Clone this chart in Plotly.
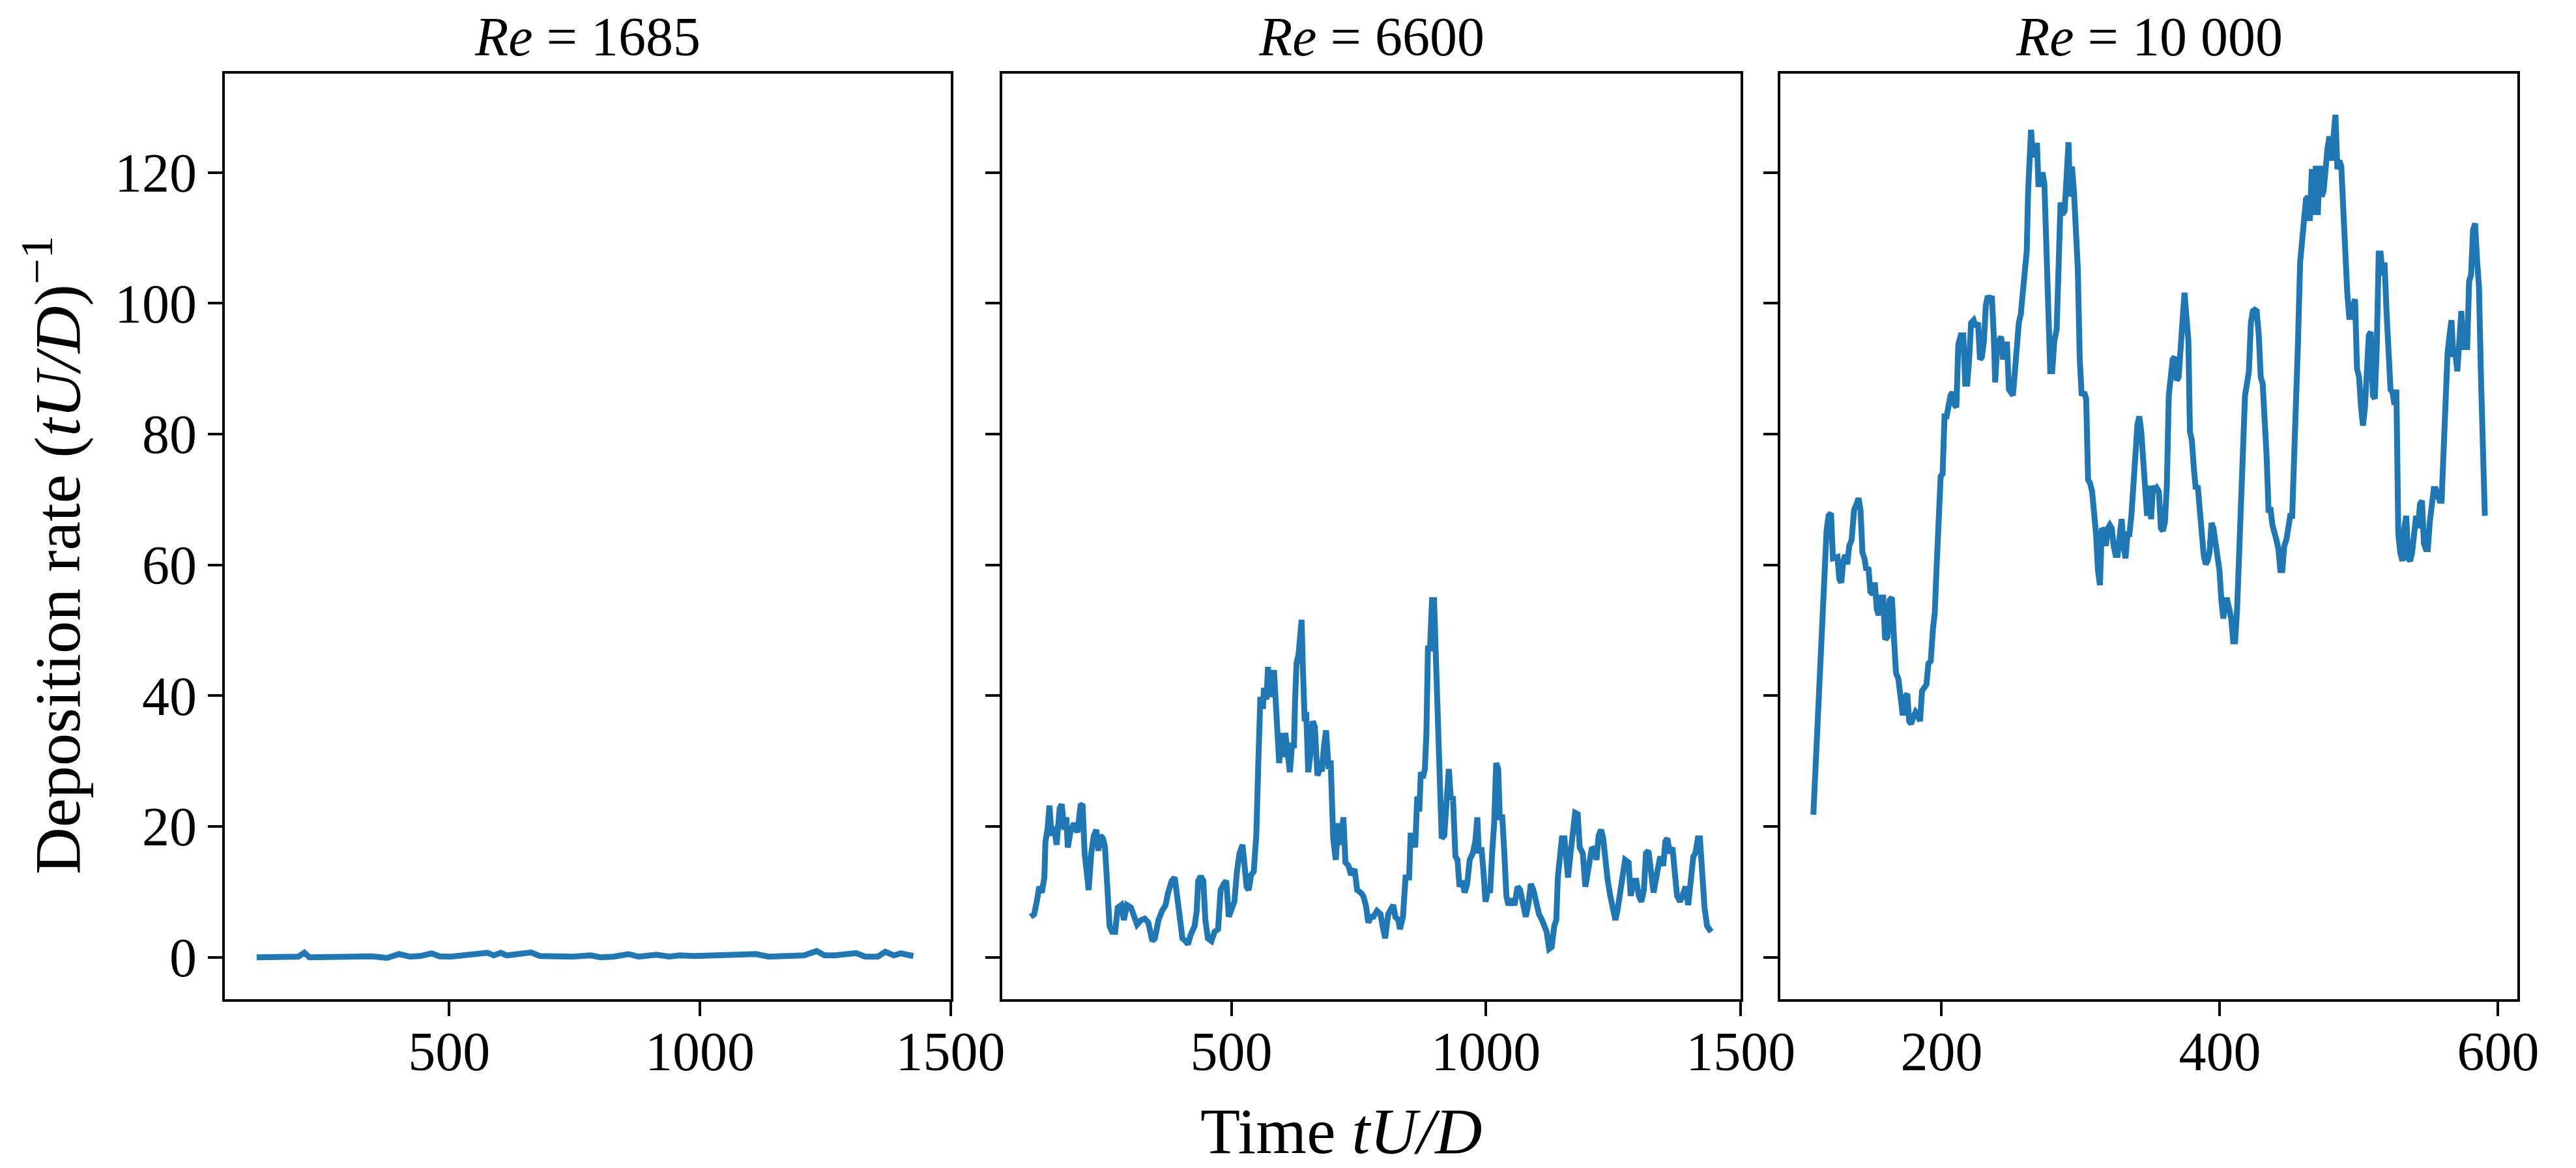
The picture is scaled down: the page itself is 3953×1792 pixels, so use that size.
import plotly.graph_objects as go

# Re = 1685
time_1685 = [116, 148, 173, 199, 211, 221, 260, 300, 346, 376,
             400, 422, 442, 465, 481, 503, 523, 552, 576, 589,
             603, 615, 630, 645, 663, 681, 706, 746, 782, 802,
             828, 858, 878, 914, 939, 959, 990, 1020, 1061, 1096,
             1112, 1137, 1162, 1183, 1208, 1233, 1249, 1269, 1289, 1312,
             1330, 1355, 1370, 1387, 1401, 1414, 1426]
rate_1685 = [0.0, 0.05, -0.1, 0.1, 0.7, 0.0, 0.05, 0.1, 0.15, -0.1,
             0.5, 0.1, 0.2, 0.6, 0.15, 0.1, 0.3, 0.4, 0.7, 0.3,
             0.7, 0.3, 0.5, 0.6, 0.75, 0.2, 0.1, 0.1, 0.3, 0.0,
             0.1, 0.5, 0.1, 0.4, 0.1, 0.3, 0.2, 0.3, 0.4, 0.6,
             0.5, 0.1, 0.2, 0.3, 0.3, 0.95, 0.3, 0.3, 0.4, 0.65,
             0.1, 0.1, 0.85, 0.3, 0.6, 0.5, 0.2]

# Re = 6600
time_6600 = [106, 113, 118, 123, 128, 133, 135, 139, 143, 147,
             152, 157, 163, 167, 172, 176, 179, 184, 191, 198,
             204, 208, 212, 215, 220, 225, 230, 235, 239, 243,
             248, 252, 256, 261, 266, 272, 277, 284, 289, 295,
             303, 308, 315, 323, 330, 337, 345, 350, 357, 364,
             371, 376, 383, 389, 393, 399, 404, 410, 415, 420,
             428, 432, 435, 440, 445, 449, 454, 461, 467, 474,
             479, 485, 490, 495, 501, 506, 511, 516, 522, 525,
             530, 534, 539, 544, 549, 553, 557, 562, 564, 569,
             572, 576, 580, 584, 588, 591, 594, 598, 602, 606,
             611, 615, 619, 623, 625, 628, 632, 635, 638, 640,
             644, 647, 651, 656, 660, 664, 669, 674, 678, 682,
             686, 691, 695, 700, 705, 710, 715, 720, 724, 730,
             735, 742, 747, 754, 759, 764, 769, 774, 779, 786,
             793, 797, 802, 808, 814, 818, 822, 828, 831, 837,
             842, 849, 852, 857, 861, 865, 869, 872, 876, 880,
             883, 886, 890, 894, 898, 901, 904, 908, 910, 913,
             918, 923, 927, 931, 935, 940, 944, 948, 953, 958,
             963, 968, 974, 979, 983, 986, 991, 995, 999, 1004,
             1008, 1012, 1016, 1020, 1024, 1027, 1032, 1036, 1040, 1044,
             1050, 1056, 1062, 1067, 1073, 1078, 1083, 1088, 1093, 1098,
             1104, 1110, 1114, 1119, 1124, 1129, 1134, 1138, 1141, 1145,
             1149, 1154, 1157, 1161, 1166, 1171, 1175, 1180, 1184, 1190,
             1195, 1200, 1204, 1208, 1214, 1217, 1221, 1226, 1230, 1234,
             1239, 1244, 1249, 1254, 1258, 1263, 1268, 1273, 1280, 1284,
             1290, 1295, 1300, 1305, 1310, 1314, 1319, 1324, 1329, 1333,
             1338, 1342, 1348, 1352, 1356, 1361, 1366, 1370, 1375, 1381,
             1387, 1392, 1397, 1402, 1407, 1411, 1416, 1420, 1424, 1429,
             1434, 1442]
rate_6600 = [6.2, 6.6, 8.5, 10.8, 9.9, 12.2, 17.7, 19.5, 23.2, 18.6,
             20.0, 17.2, 22.8, 23.4, 19.5, 21.4, 16.8, 19.1, 20.5, 19.1,
             23.2, 23.4, 15.9, 13.1, 10.3, 15.9, 18.6, 19.5, 16.3, 18.6,
             18.2, 16.8, 10.3, 4.8, 3.9, 3.9, 7.6, 8.0, 5.7, 8.0,
             7.6, 6.6, 5.0, 5.7, 5.9, 5.3, 2.5, 2.9, 5.7, 7.1,
             8.0, 9.9, 11.7, 12.2, 9.9, 6.6, 2.9, 2.5, 2.0, 3.4,
             4.8, 7.1, 11.7, 12.4, 11.7, 5.7, 2.9, 2.5, 3.9, 4.3,
             10.3, 11.2, 11.7, 6.2, 7.6, 8.5, 13.1, 15.9, 17.2, 14.9,
             10.8, 10.3, 12.6, 13.1, 18.6, 29.7, 39.8, 38.0, 41.2, 39.4,
             44.4, 39.8, 43.5, 43.5, 36.1, 34.7, 29.7, 34.3, 30.6, 34.3,
             30.1, 28.3, 32.4, 32.4, 38.9, 44.9, 46.3, 49.0, 51.6, 45.4,
             36.1, 37.5, 28.3, 31.5, 36.1, 35.2, 27.8, 28.8, 28.8, 32.4,
             34.7, 28.8, 30.1, 18.2, 14.9, 20.5, 17.2, 21.4, 14.5, 14.0,
             12.6, 13.5, 10.3, 9.9, 9.4, 8.0, 5.3, 6.2, 6.2, 7.1,
             6.6, 4.8, 2.9, 6.6, 7.6, 8.0, 6.2, 5.7, 4.3, 6.2,
             12.2, 12.2, 18.6, 18.6, 16.8, 24.6, 22.3, 28.3, 27.4, 28.8,
             34.3, 47.2, 47.2, 54.6, 54.6, 47.2, 38.0, 24.1, 23.7, 18.2,
             18.6, 25.1, 28.8, 24.1, 24.6, 15.4, 14.9, 10.8, 11.7, 9.9,
             11.2, 14.9, 15.9, 17.7, 21.4, 15.9, 16.8, 13.1, 8.5, 10.3,
             9.9, 15.9, 20.5, 29.7, 28.8, 21.4, 21.4, 15.9, 9.4, 8.0,
             8.9, 8.0, 10.8, 10.3, 8.5, 6.2, 8.0, 11.2, 10.3, 8.5,
             6.6, 5.7, 4.8, 3.9, 1.3, 1.6, 4.8, 5.7, 12.2, 15.9,
             18.2, 18.2, 15.4, 12.2, 15.9, 19.5, 22.1, 21.9, 16.8, 15.9,
             10.8, 13.1, 14.9, 16.8, 16.3, 14.9, 18.6, 19.5, 18.2, 14.9,
             11.7, 9.4, 7.1, 5.7, 7.1, 10.3, 13.1, 14.9, 14.5, 9.4,
             11.7, 11.7, 9.4, 8.5, 10.3, 15.9, 16.3, 12.2, 9.9, 11.7,
             14.0, 15.4, 14.0, 17.7, 18.2, 15.9, 16.8, 13.1, 9.4, 8.5,
             9.9, 10.8, 8.0, 11.7, 15.4, 15.9, 18.2, 18.2, 13.1, 7.6,
             4.8, 3.9]

# Re = 10 000
time_10000 = [107.8, 108.8, 110.3, 111.7, 113.1, 114.5, 115.9, 117.3, 118.7, 120.5,
              121.9, 123.3, 125.1, 126.5, 127.9, 129.3, 130.7, 132.2, 133.6, 135.3,
              137.1, 138.9, 140.3, 141.7, 143.1, 144.5, 145.9, 147.4, 148.8, 150.5,
              152.0, 153.4, 154.8, 156.5, 158.0, 159.4, 161.1, 162.6, 164.3, 165.7,
              167.2, 168.9, 170.7, 172.1, 173.9, 175.3, 176.7, 178.1, 179.5, 181.3,
              183.1, 184.5, 185.9, 187.3, 189.1, 190.5, 192.2, 193.7, 195.1, 196.5,
              197.9, 199.3, 200.7, 202.1, 203.6, 205.0, 206.4, 207.8, 209.2, 210.6,
              212.0, 213.8, 215.6, 217.0, 218.4, 219.8, 221.2, 223.0, 224.4, 226.2,
              227.6, 229.0, 230.4, 231.8, 233.2, 234.7, 236.1, 237.5, 238.5, 240.0,
              241.4, 242.8, 244.2, 245.6, 247.0, 248.4, 249.8, 251.3, 252.7, 254.1,
              255.5, 256.9, 258.3, 259.7, 261.2, 262.2, 263.3, 264.3, 265.7, 267.2,
              268.6, 269.6, 271.1, 272.5, 273.9, 275.3, 276.7, 278.1, 279.5, 281.0,
              282.7, 284.1, 285.5, 287.0, 288.4, 289.8, 291.2, 292.3, 293.7, 295.1,
              296.5, 297.9, 299.3, 300.7, 302.5, 303.9, 305.3, 306.7, 308.2, 309.6,
              311.0, 312.4, 313.8, 315.2, 316.6, 318.1, 319.5, 320.9, 322.3, 323.7,
              325.1, 326.5, 328.0, 329.4, 330.8, 332.2, 333.6, 335.0, 336.4, 337.9,
              339.3, 340.7, 342.1, 343.5, 344.9, 346.3, 347.7, 349.2, 350.6, 352.0,
              353.4, 354.8, 356.2, 357.6, 359.1, 360.5, 361.9, 363.3, 364.7, 366.1,
              367.5, 369.0, 370.4, 371.8, 373.2, 374.6, 376.0, 377.4, 378.5, 379.9,
              381.3, 382.7, 384.1, 385.5, 387.0, 388.4, 389.8, 391.2, 392.6, 394.0,
              395.4, 396.9, 398.3, 399.7, 401.1, 402.5, 403.9, 405.3, 406.8, 408.2,
              409.6, 411.0, 412.4, 413.8, 415.2, 416.6, 418.1, 419.5, 420.9, 422.3,
              423.7, 425.1, 426.5, 428.0, 429.4, 430.8, 432.2, 433.6, 435.0, 436.5,
              437.8, 439.3, 440.7, 442.1, 443.5, 444.9, 446.3, 447.8, 449.2, 450.6,
              452.0, 453.4, 454.8, 456.2, 457.7, 459.1, 460.5, 461.9, 463.3, 464.7,
              466.1, 467.5, 469.0, 470.4, 471.8, 473.2, 474.6, 476.0, 477.4, 478.8,
              480.3, 481.7, 483.1, 484.5, 485.9, 487.3, 488.7, 490.2, 491.6, 493.0,
              494.4, 495.8, 497.2, 498.6, 500.1, 501.5, 502.9, 504.3, 505.7, 507.1,
              508.5, 510.0, 511.4, 512.8, 514.2, 515.6, 517.0, 518.4, 519.8, 521.3,
              522.7, 524.1, 525.5, 526.9, 528.3, 529.7, 531.2, 532.6, 534.0, 535.4,
              536.8, 538.2, 539.6, 541.1, 542.4, 543.9, 545.3, 546.7, 548.1, 549.5,
              550.9, 552.3, 553.8, 555.2, 556.6, 558.0, 559.4, 560.8, 562.3, 563.7,
              565.1, 566.5, 567.9, 569.3, 570.7, 572.1, 573.6, 575.0, 576.4, 577.8,
              579.2, 580.6, 582.0, 583.5, 584.9, 586.3, 587.7, 589.1, 590.5]
rate_10000 = [21.8, 26.9, 31.5, 40.7, 48.1, 55.5, 61.9, 65.2, 67.5, 67.9,
              61.0, 61.0, 61.2, 57.8, 57.3, 60.6, 61.5, 60.1, 62.9, 63.8,
              68.4, 69.3, 70.2, 68.4, 61.9, 61.0, 59.2, 59.6, 55.9, 55.5,
              57.3, 53.2, 52.3, 55.0, 55.0, 48.6, 49.0, 54.6, 55.0, 49.0,
              43.5, 42.6, 38.9, 37.0, 39.8, 40.3, 36.1, 35.7, 36.6, 37.5,
              37.0, 36.1, 40.7, 41.2, 41.7, 44.9, 45.3, 50.0, 52.7, 60.1,
              66.5, 73.5, 73.9, 82.7, 82.7, 85.0, 85.9, 86.4, 84.5, 84.1,
              93.7, 95.1, 95.1, 87.7, 87.7, 91.4, 97.0, 97.4, 96.5, 97.0,
              91.4, 91.8, 94.2, 99.7, 101.1, 100.6, 101.1, 95.1, 87.9, 93.7,
              94.2, 94.9, 91.4, 93.7, 93.7, 86.8, 86.4, 85.9, 89.6, 95.1,
              97.0, 98.3, 101.6, 105.3, 108.0, 117.2, 126.5, 126.5, 122.3, 124.1,
              124.1, 118.2, 118.2, 120.0, 118.2, 108.9, 101.6, 89.6, 89.6, 94.2,
              96.0, 105.7, 115.4, 113.6, 114.1, 119.2, 124.6, 116.3, 120.9, 117.2,
              111.7, 105.3, 91.4, 85.9, 86.4, 85.4, 73.0, 72.5, 71.2, 68.4,
              64.7, 59.2, 56.9, 65.6, 65.2, 62.9, 65.6, 66.1, 65.6, 62.9,
              61.5, 61.5, 64.7, 67.0, 62.9, 61.0, 64.7, 64.7, 67.5, 71.2,
              76.7, 81.3, 82.7, 80.4, 75.8, 72.1, 67.5, 72.1, 67.0, 72.1,
              71.2, 71.7, 71.2, 65.6, 65.2, 66.5, 72.1, 85.9, 88.7, 91.4,
              91.8, 88.2, 88.7, 94.7, 97.4, 101.6, 97.8, 94.2, 80.4, 79.0,
              74.8, 71.6, 72.1, 68.4, 63.3, 61.5, 60.1, 60.6, 61.9, 66.4,
              65.6, 62.9, 61.0, 59.2, 54.6, 51.8, 54.6, 54.6, 53.2, 51.8,
              48.3, 48.3, 53.2, 61.9, 65.6, 73.0, 85.9, 87.7, 89.6, 97.0,
              98.8, 99.0, 98.8, 95.1, 88.7, 87.7, 83.1, 76.7, 68.4, 68.4,
              66.1, 65.2, 63.8, 62.4, 59.2, 59.2, 62.9, 63.8, 66.1, 67.5,
              67.5, 74.8, 86.8, 94.2, 106.2, 109.0, 112.2, 115.9, 116.3, 112.6,
              120.5, 113.5, 121.0, 113.5, 121.0, 116.3, 117.2, 121.8, 123.7, 125.5,
              121.8, 125.5, 128.8, 120.5, 121.8, 120.9, 113.5, 109.9, 101.6, 97.9,
              97.9, 99.7, 100.6, 90.0, 88.7, 84.1, 81.3, 84.1, 89.6, 95.1,
              95.6, 85.9, 85.4, 93.3, 107.6, 107.6, 104.3, 106.2, 98.8, 93.7,
              86.8, 86.4, 84.5, 86.8, 64.7, 61.9, 60.6, 65.6, 67.5, 61.0,
              60.6, 61.9, 65.6, 67.5, 65.6, 69.3, 69.8, 63.3, 62.4, 62.4,
              66.5, 69.3, 71.6, 71.6, 70.2, 69.8, 69.8, 77.6, 82.2, 92.4,
              95.1, 97.4, 91.8, 92.4, 89.6, 94.2, 98.8, 93.3, 93.3, 93.3,
              103.4, 104.3, 111.2, 112.2, 106.6, 102.5, 88.7, 78.5, 67.5]

titles = ["<i>Re</i> = 1685", "<i>Re</i> = 6600", "<i>Re</i> = 10 000"]
y_ticks = [0, 20, 40, 60, 80, 100, 120]
x_ticks = [[500, 1000, 1500], [500, 1000, 1500], [200, 400, 600]]

W, H = 3953, 1792
FONT = "Liberation Serif"
BLUE = "#1f77b4"

# panel frames in pixels (left, right), shared top/bottom
panels_px = [(344, 1482), (1563, 2721), (2783, 3939)]
top_px, bottom_px = 105, 1525
x_ranges = [[52, 1500], [50, 1500], [84, 614]]
y_range = [-6.4, 135.1]

series = [(time_1685, rate_1685), (time_6600, rate_6600), (time_10000, rate_10000)]

fig = go.Figure()
y_dom = [1 - bottom_px / H, 1 - top_px / H]

for i, ((t, r), (l, rr)) in enumerate(zip(series, panels_px)):
    n = "" if i == 0 else str(i + 1)
    fig.add_trace(go.Scatter(x=t, y=r, mode="lines", xaxis="x" + n, yaxis="y" + n,
                             line=dict(color=BLUE, width=9), showlegend=False))
    axis_common = dict(showline=True, linecolor="black", linewidth=4, mirror=True,
                       ticks="outside", ticklen=22, tickwidth=4, tickcolor="black",
                       showgrid=False, zeroline=False,
                       tickfont=dict(family=FONT, size=84, color="black"))
    fig.layout["xaxis" + n] = dict(domain=[l / W, rr / W], range=x_ranges[i],
                                   tickvals=x_ticks[i], anchor="y" + n,
                                   ticklabelstandoff=-18, **axis_common)
    fig.layout["yaxis" + n] = dict(domain=y_dom, range=y_range, tickvals=y_ticks,
                                   showticklabels=(i == 0), anchor="x" + n, **axis_common)
    fig.add_annotation(text=titles[i], xref="paper", yref="paper",
                       x=(l + rr) / 2 / W, y=1.0, xanchor="center", yanchor="top",
                       showarrow=False, font=dict(family=FONT, size=84, color="black"))

fig.add_annotation(text="Time <i>tU/D</i>", xref="paper", yref="paper",
                   x=2095 / W, y=0.036, xanchor="center", yanchor="middle",
                   showarrow=False, font=dict(family=FONT, size=100, color="black"))
fig.add_annotation(text="Deposition rate (<i>tU/D</i>)<sup>−1</sup>", xref="paper", yref="paper",
                   x=0.019, y=0.529, xanchor="center", yanchor="middle", textangle=-90,
                   showarrow=False, font=dict(family=FONT, size=100, color="black"))

fig.update_layout(width=W, height=H, margin=dict(l=0, r=0, t=0, b=0),
                  paper_bgcolor="white", plot_bgcolor="white")

fig.write_html("out.html")
